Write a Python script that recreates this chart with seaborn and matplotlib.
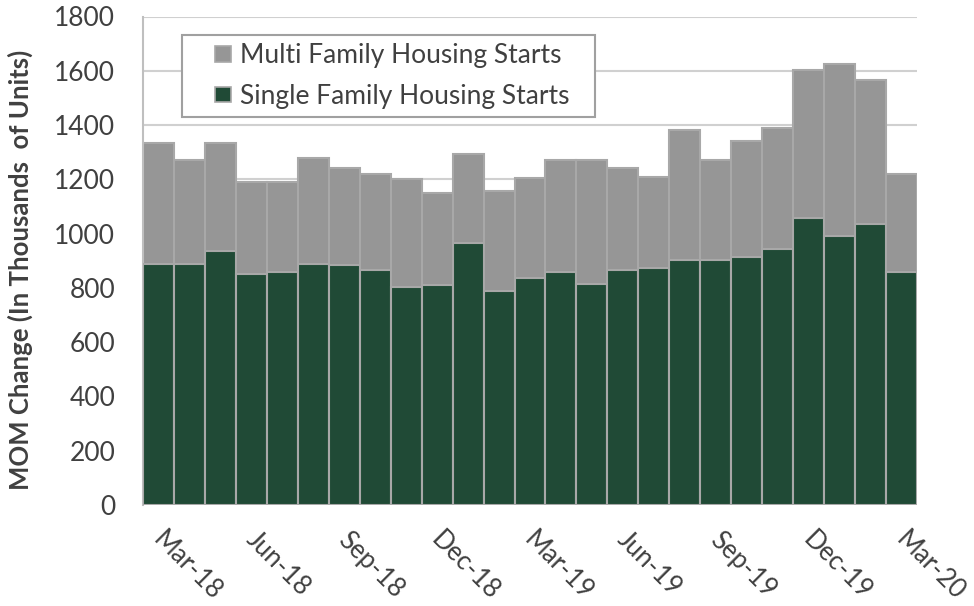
import matplotlib
matplotlib.use("Agg")
import matplotlib.pyplot as plt
import matplotlib.transforms as mtransforms
import seaborn as sns
import pandas as pd
from matplotlib.legend_handler import HandlerBase
from matplotlib.patches import Rectangle

months = ["Mar-18", "Apr-18", "May-18", "Jun-18", "Jul-18", "Aug-18", "Sep-18", "Oct-18",
          "Nov-18", "Dec-18", "Jan-19", "Feb-19", "Mar-19", "Apr-19", "May-19", "Jun-19",
          "Jul-19", "Aug-19", "Sep-19", "Oct-19", "Nov-19", "Dec-19", "Jan-20", "Feb-20", "Mar-20"]
total_starts = [1334, 1272, 1334, 1189, 1189, 1280, 1242, 1220, 1203, 1150, 1295, 1156, 1204,
                1272, 1272, 1241, 1210, 1380, 1272, 1341, 1388, 1602, 1626, 1567, 1218]
single_family = [889, 889, 936, 852, 859, 889, 883, 867, 805, 811, 966, 789, 836,
                 859, 814, 867, 875, 904, 904, 912, 943, 1057, 990, 1035, 859]
multi_family = [t - s for t, s in zip(total_starts, single_family)]
tick_labels = ["Mar-18", "Jun-18", "Sep-18", "Dec-18", "Mar-19", "Jun-19", "Sep-19", "Dec-19", "Mar-20"]

df = pd.DataFrame({"month": months, "total": total_starts,
                   "single": single_family, "multi": multi_family})

sns.set_theme(style="white")
plt.rcParams["font.family"] = ["Lato", "DejaVu Sans"]

GREEN = "#204A36"
GRAY = "#969696"
EDGE = "#A8A8A8"
TXT = "#404040"
FS = 19

fig = plt.figure(figsize=(9.74, 6.06), dpi=100)
ax = fig.add_axes([143 / 974, 1 - 505 / 606, 774 / 974, (505 - 16.5) / 606])

sns.barplot(data=df, x="month", y="total", color=GRAY, width=1.0, edgecolor=EDGE,
            linewidth=1.5, saturation=1, ax=ax, zorder=2)
sns.barplot(data=df, x="month", y="single", color=GREEN, width=1.0, edgecolor=EDGE,
            linewidth=1.5, saturation=1, ax=ax, zorder=3)

ax.set_ylim(0, 1800)
ax.set_xlim(-0.5, len(months) - 0.5)
ax.set_yticks(range(0, 1801, 200))
ax.yaxis.grid(True, color="#D0D0D0", linewidth=1.5, zorder=0)
ax.set_axisbelow(True)

for s in ["top", "right", "bottom"]:
    ax.spines[s].set_visible(False)
ax.spines["left"].set_color("#BFBFBF")
ax.spines["left"].set_linewidth(1.5)

tick_pos = [months.index(m) for m in tick_labels]
ax.set_xticks(tick_pos)
ax.set_xticklabels(tick_labels, rotation=-45, ha="left", va="top", rotation_mode="anchor",
                   fontsize=18.5, color=TXT)
ax.tick_params(axis="x", length=0, pad=16)
ax.tick_params(axis="y", length=0, pad=20, labelsize=FS, labelcolor=TXT)
shift = mtransforms.ScaledTranslation(0.07, 0, fig.dpi_scale_trans)
for lab in ax.get_xticklabels():
    lab.set_transform(lab.get_transform() + shift)

ax.set_xlabel("")
ax.set_ylabel("MOM Change (In Thousands  of Units)", fontsize=18.5, fontweight="bold", color=TXT)
ax.yaxis.set_label_coords(-0.142, 0.481)


class SquareHandler(HandlerBase):
    def create_artists(self, legend, orig_handle, xdescent, ydescent, width, height, fontsize, trans):
        sq = 11.5
        r = Rectangle((width - sq - xdescent, -ydescent + (height - sq) / 2), sq, sq,
                      facecolor=orig_handle.get_facecolor(), edgecolor=EDGE, linewidth=1.2,
                      transform=trans)
        return [r]


handles = [Rectangle((0, 0), 1, 1, facecolor=GRAY), Rectangle((0, 0), 1, 1, facecolor=GREEN)]
labels = ["Multi Family Housing Starts", "Single Family Housing Starts"]
x0 = (182 - 143) / 774
x1 = (595 - 143) / 774
ytop = (505 - 35) / 488.5
ybot = (505 - 117) / 488.5
leg = ax.legend(handles, labels, loc="upper left", bbox_to_anchor=(x0, ybot, x1 - x0, ytop - ybot),
                mode="expand", borderaxespad=0,
                fontsize=FS, frameon=True, fancybox=False, framealpha=1,
                edgecolor="#A0A0A0", handlelength=1.55, handleheight=0.7,
                handletextpad=0.34, labelspacing=0.6, borderpad=0.3,
                handler_map={Rectangle: SquareHandler()})
leg.get_frame().set_linewidth(1.5)
for t in leg.get_texts():
    t.set_color(TXT)

fig.savefig("out.png", dpi=100)
